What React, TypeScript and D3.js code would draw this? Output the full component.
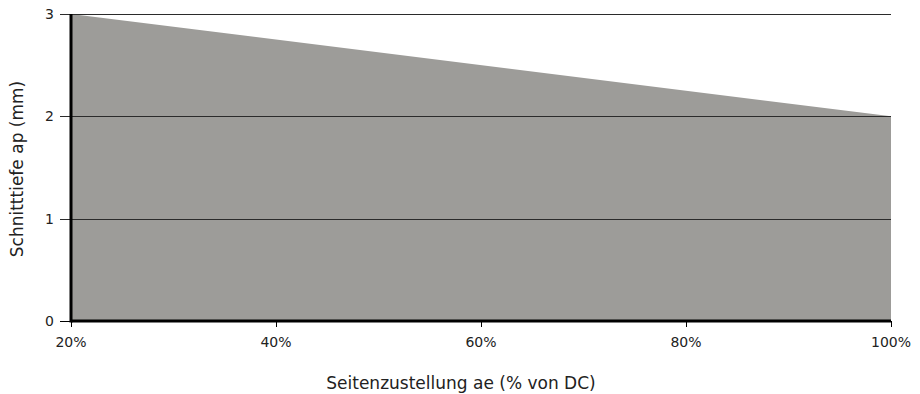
import { useEffect, useRef } from "react";
import * as d3 from "d3";

// Seitenzustellung ae (% von DC) vs. Schnitttiefe ap (mm)
const aeValues = [20, 100];
const apValues = [3, 2];
const xTicks = [20, 40, 60, 80, 100];
const yTicks = [0, 1, 2, 3];

export default function App() {
  const svgRef = useRef<SVGSVGElement | null>(null);

  useEffect(() => {
    if (!svgRef.current) return;
    const svg = d3.select(svgRef.current);
    svg.selectAll("*").remove();
    const width = 920;
    const height = 394;
    const margin = { top: 14, right: 29, bottom: 73, left: 71 };
    const innerWidth = width - margin.left - margin.right;
    const innerHeight = height - margin.top - margin.bottom;
    const font = "'DejaVu Sans', sans-serif";

    const x = d3.scaleLinear().domain([20, 100]).range([0, innerWidth]);
    const y = d3.scaleLinear().domain([0, 3]).range([innerHeight, 0]);

    const data = aeValues.map((v, i) => ({ ae: v, ap: apValues[i] }));

    const g = svg
      .append("g")
      .attr("transform", `translate(${margin.left},${margin.top})`);

    // filled area
    const area = d3
      .area<{ ae: number; ap: number }>()
      .x((d) => x(d.ae))
      .y0(y(0))
      .y1((d) => y(d.ap));
    g.append("path").datum(data).attr("d", area).attr("fill", "#9d9c99");

    // horizontal gridlines with tick stubs
    g.selectAll(".grid")
      .data(yTicks.filter((t) => t > 0))
      .enter()
      .append("line")
      .attr("x1", -11)
      .attr("x2", innerWidth)
      .attr("y1", (d) => Math.round(y(d)) + 0.5)
      .attr("y2", (d) => Math.round(y(d)) + 0.5)
      .attr("stroke", "#2b2b2b")
      .attr("stroke-width", 1);

    // zero tick on y
    g.append("line")
      .attr("x1", -11)
      .attr("x2", 0)
      .attr("y1", innerHeight + 0.5)
      .attr("y2", innerHeight + 0.5)
      .attr("stroke", "#000");

    // y tick labels
    g.selectAll(".ylab")
      .data(yTicks)
      .enter()
      .append("text")
      .attr("x", -17)
      .attr("y", (d) => y(d))
      .attr("dy", "0.35em")
      .attr("text-anchor", "end")
      .attr("font-family", font)
      .attr("font-size", 14)
      .attr("fill", "#222")
      .text((d) => d);

    // x ticks
    g.selectAll(".xtick")
      .data(xTicks)
      .enter()
      .append("line")
      .attr("x1", (d) => Math.round(x(d)) + 0.5)
      .attr("x2", (d) => Math.round(x(d)) + 0.5)
      .attr("y1", innerHeight)
      .attr("y2", innerHeight + 6)
      .attr("stroke", "#000");

    g.selectAll(".xlab")
      .data(xTicks)
      .enter()
      .append("text")
      .attr("x", (d) => x(d))
      .attr("y", innerHeight + 26)
      .attr("text-anchor", "middle")
      .attr("font-family", font)
      .attr("font-size", 14)
      .attr("fill", "#222")
      .text((d) => `${d}%`);

    // thick axis lines
    g.append("line")
      .attr("x1", 0)
      .attr("x2", innerWidth)
      .attr("y1", innerHeight)
      .attr("y2", innerHeight)
      .attr("stroke", "#000")
      .attr("stroke-width", 3);
    g.append("line")
      .attr("x1", 0)
      .attr("x2", 0)
      .attr("y1", 0)
      .attr("y2", innerHeight + 1.5)
      .attr("stroke", "#000")
      .attr("stroke-width", 3);

    // axis titles
    svg
      .append("text")
      .attr("x", 461)
      .attr("y", 389)
      .attr("text-anchor", "middle")
      .attr("font-family", font)
      .attr("font-size", 17)
      .attr("fill", "#222")
      .text("Seitenzustellung ae (% von DC)");
    svg
      .append("text")
      .attr("transform", "rotate(-90)")
      .attr("x", -169)
      .attr("y", 23)
      .attr("text-anchor", "middle")
      .attr("font-family", font)
      .attr("font-size", 17)
      .attr("fill", "#222")
      .text("Schnitttiefe ap (mm)");
  }, []);

  return (
    <svg
      ref={svgRef}
      width={920}
      height={394}
      style={{ position: "absolute", left: 0, top: 0 }}
    />
  );
}
